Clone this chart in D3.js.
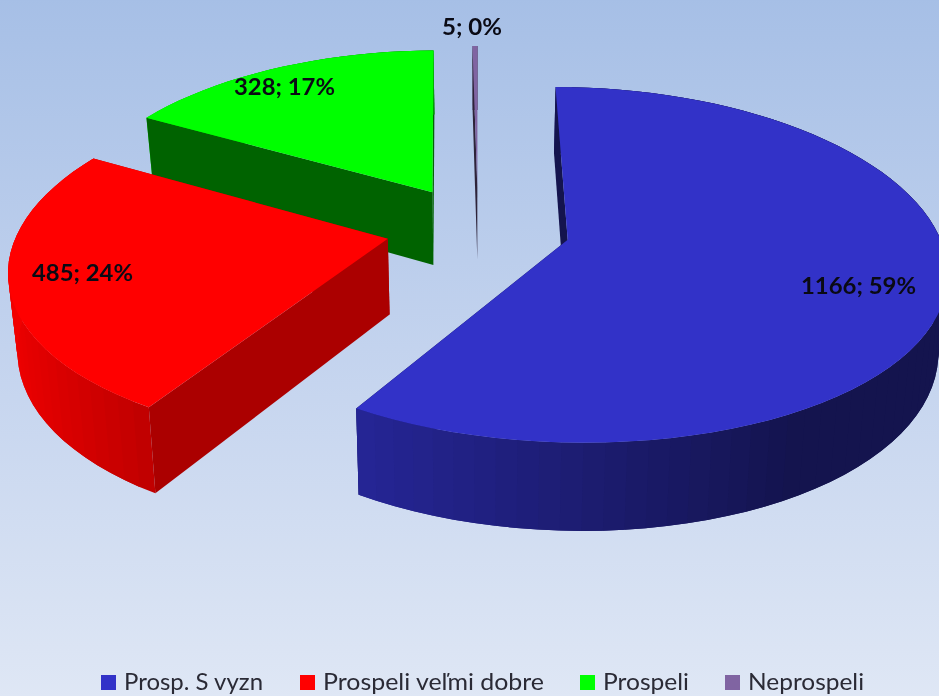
<!DOCTYPE html>
<html><head><meta charset="utf-8">
<script src="https://cdn.jsdelivr.net/npm/d3@7/dist/d3.min.js"></script>
<style>html,body{margin:0;padding:0;background:#dfe7f5}svg{display:block;filter:blur(0.45px)}</style>
</head><body><svg id="c" width="939" height="696"></svg>
<script>
const categories = ["Prosp. S vyzn", "Prospeli veľmi dobre", "Prospeli", "Neprospeli"];
const values = [1166, 485, 328, 5];
const percents = [59, 24, 17, 0];
const colors = ["#3232c8", "#ff0000", "#00ff00", "#8064a2"];
const innerShade = [0.39, 0.67, 0.39, 0.35];
const labelPos = [[858.5, 294], [82.5, 281], [284.5, 95], [472, 35]];
const labelWidths = [115, 101, 101, 60];
const legendX = [101, 300, 580, 725];
const legendTextW = [139, 221, 86, 116];

const W = 939, H = 696;
const svg = d3.select("#c");
const defs = svg.append("defs");
const bg = defs.append("linearGradient").attr("id", "bg").attr("x1", 0).attr("y1", 0).attr("x2", 0).attr("y2", 1);
bg.append("stop").attr("offset", 0).attr("stop-color", "#a6bfe6");
bg.append("stop").attr("offset", 0.5).attr("stop-color", "#c3d3ee");
bg.append("stop").attr("offset", 1).attr("stop-color", "#dfe7f5");
svg.append("rect").attr("x", -3).attr("y", -3).attr("width", W + 6).attr("height", H + 6).attr("fill", "url(#bg)");

// Pie layout, then a simple perspective projection of the tilted disc
const pie = d3.pie().sort(null).value(d => d);
const arcs = pie(values);
const xc = 478, yc = 228, Rx = 369, Ry = 171, persp = 0.14, perspX = 0.155, explode = 0.25, depth = 75, shrink = 0.98;
function project(U, V, bottom) {
  const w = 1 - persp * V, wx = 1 - perspX * V;
  const k = bottom ? shrink : 1;
  return [xc + Rx * U / wx * k, yc + Ry * V / w + (bottom ? depth / w : 0)];
}
const shade = d3.scaleLinear().domain([-1, -0.5, 0.5, 1]).range([0.95, 0.74, 0.39, 0.39]).clamp(true);
const line = d3.line();
const g = svg.append("g");
const scaled = (col, f) => { const c = d3.rgb(col); return d3.rgb(c.r * f, c.g * f, c.b * f).formatHex(); };

[3, 2, 1, 0].forEach(i => {
  const a = arcs[i], mid = (a.startAngle + a.endAngle) / 2;
  const cu = Math.sin(mid) * explode, cv = -Math.cos(mid) * explode;
  const rim = t => [cu + Math.sin(t), cv - Math.cos(t)];
  const span = a.endAngle - a.startAngle;
  const steps = Math.max(2, Math.ceil(span / 0.05));
  const ts = d3.range(steps + 1).map(k => a.startAngle + span * k / steps);
  const col = colors[i];
  const sl = g.append("g");
  const radial = t => {
    const [u, v] = rim(t);
    sl.append("path").attr("d", line([project(u, v, false), project(cu, cv, false), project(cu, cv, true), project(u, v, true)]) + "Z")
      .attr("fill", scaled(col, innerShade[i]));
  };
  // back-facing radial wall first
  radial(a.endAngle);
  // outer wall: each strip overlaps the next so later strips paint over the seam
  ts.slice(0, -1).forEach((t0, k) => {
    const f = shade(Math.sin(t0 + span / steps / 2));
    const pts = ts.slice(k, Math.min(k + 3, ts.length));
    const up = pts.map(t => { const [u, v] = rim(t); return project(u, v, false); });
    const dn = pts.slice().reverse().map(t => { const [u, v] = rim(t); return project(u, v, true); });
    sl.append("path").attr("d", line(up.concat(dn)) + "Z").attr("fill", scaled(col, f));
  });
  // front-facing radial wall
  radial(a.startAngle);
  // top face
  const top = [project(cu, cv, false)].concat(ts.map(t => { const [u, v] = rim(t); return project(u, v, false); }));
  sl.append("path").attr("d", line(top) + "Z").attr("fill", col);
});

// data labels
const labels = g.append("g").attr("font-family", "Lato, sans-serif").attr("font-weight", 700).attr("font-size", 23).attr("fill", "#0a0a14");
values.forEach((v, i) => {
  labels.append("text").attr("x", labelPos[i][0]).attr("y", labelPos[i][1]).attr("text-anchor", "middle")
    .attr("textLength", labelWidths[i]).attr("lengthAdjust", "spacingAndGlyphs")
    .text(`${v}; ${percents[i]}%`);
});

// legend
const leg = svg.append("g").attr("font-family", "Lato, sans-serif").attr("font-size", 24).attr("fill", "#2a2a35");
categories.forEach((c, i) => {
  leg.append("rect").attr("x", legendX[i]).attr("y", 675).attr("width", 15).attr("height", 15).attr("fill", colors[i]);
  leg.append("text").attr("x", legendX[i] + 23).attr("y", 690)
    .attr("textLength", legendTextW[i]).attr("lengthAdjust", "spacingAndGlyphs").text(c);
});
</script></body></html>
